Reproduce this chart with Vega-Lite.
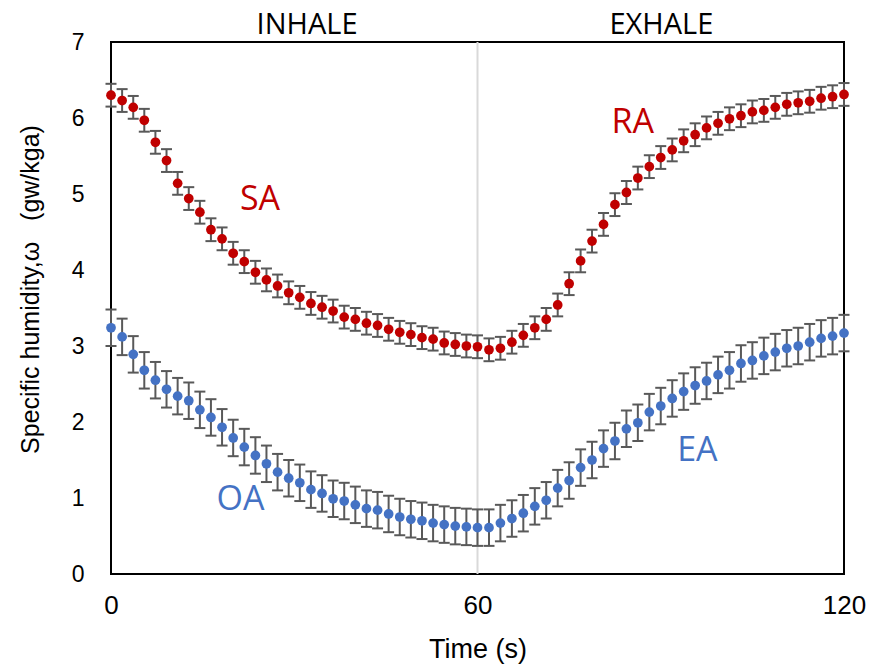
{
  "$schema": "https://vega.github.io/schema/vega-lite/v6.json",
  "width": 733,
  "height": 532,
  "autosize": "none",
  "padding": {"left": 111, "top": 42, "right": 29, "bottom": 97},
  "background": "white",
  "config": {
    "view": {"stroke": "#000000", "strokeWidth": 2},
    "axis": {"grid": false, "domain": false, "ticks": false, "tickSize": 0, "labelFlush": false, "labelFont": "Liberation Sans", "titleFont": "Liberation Sans", "labelColor": "#000000", "titleColor": "#000000", "titleFontWeight": "normal"}
  },
  "datasets": {
    "pts": [
      {"t": 0, "s": "SA-RA", "v": 6.30, "e": 0.15},
      {"t": 1.82, "s": "SA-RA", "v": 6.23, "e": 0.15},
      {"t": 3.64, "s": "SA-RA", "v": 6.14, "e": 0.15},
      {"t": 5.45, "s": "SA-RA", "v": 5.97, "e": 0.15},
      {"t": 7.27, "s": "SA-RA", "v": 5.68, "e": 0.15},
      {"t": 9.09, "s": "SA-RA", "v": 5.44, "e": 0.15},
      {"t": 10.91, "s": "SA-RA", "v": 5.14, "e": 0.15},
      {"t": 12.73, "s": "SA-RA", "v": 4.94, "e": 0.15},
      {"t": 14.55, "s": "SA-RA", "v": 4.76, "e": 0.15},
      {"t": 16.36, "s": "SA-RA", "v": 4.53, "e": 0.15},
      {"t": 18.18, "s": "SA-RA", "v": 4.41, "e": 0.15},
      {"t": 20.0, "s": "SA-RA", "v": 4.22, "e": 0.15},
      {"t": 21.82, "s": "SA-RA", "v": 4.11, "e": 0.15},
      {"t": 23.64, "s": "SA-RA", "v": 3.97, "e": 0.15},
      {"t": 25.45, "s": "SA-RA", "v": 3.87, "e": 0.15},
      {"t": 27.27, "s": "SA-RA", "v": 3.79, "e": 0.15},
      {"t": 29.09, "s": "SA-RA", "v": 3.70, "e": 0.15},
      {"t": 30.91, "s": "SA-RA", "v": 3.64, "e": 0.15},
      {"t": 32.73, "s": "SA-RA", "v": 3.56, "e": 0.15},
      {"t": 34.55, "s": "SA-RA", "v": 3.51, "e": 0.15},
      {"t": 36.36, "s": "SA-RA", "v": 3.46, "e": 0.15},
      {"t": 38.18, "s": "SA-RA", "v": 3.38, "e": 0.15},
      {"t": 40.0, "s": "SA-RA", "v": 3.35, "e": 0.15},
      {"t": 41.82, "s": "SA-RA", "v": 3.30, "e": 0.15},
      {"t": 43.64, "s": "SA-RA", "v": 3.27, "e": 0.15},
      {"t": 45.45, "s": "SA-RA", "v": 3.22, "e": 0.15},
      {"t": 47.27, "s": "SA-RA", "v": 3.18, "e": 0.15},
      {"t": 49.09, "s": "SA-RA", "v": 3.15, "e": 0.15},
      {"t": 50.91, "s": "SA-RA", "v": 3.11, "e": 0.15},
      {"t": 52.73, "s": "SA-RA", "v": 3.09, "e": 0.15},
      {"t": 54.55, "s": "SA-RA", "v": 3.04, "e": 0.15},
      {"t": 56.36, "s": "SA-RA", "v": 3.02, "e": 0.15},
      {"t": 58.18, "s": "SA-RA", "v": 3.00, "e": 0.15},
      {"t": 60.0, "s": "SA-RA", "v": 2.99, "e": 0.15},
      {"t": 61.88, "s": "SA-RA", "v": 2.95, "e": 0.15},
      {"t": 63.75, "s": "SA-RA", "v": 2.97, "e": 0.15},
      {"t": 65.63, "s": "SA-RA", "v": 3.05, "e": 0.15},
      {"t": 67.5, "s": "SA-RA", "v": 3.14, "e": 0.15},
      {"t": 69.38, "s": "SA-RA", "v": 3.24, "e": 0.15},
      {"t": 71.25, "s": "SA-RA", "v": 3.35, "e": 0.15},
      {"t": 73.13, "s": "SA-RA", "v": 3.54, "e": 0.15},
      {"t": 75.0, "s": "SA-RA", "v": 3.82, "e": 0.15},
      {"t": 76.88, "s": "SA-RA", "v": 4.12, "e": 0.15},
      {"t": 78.75, "s": "SA-RA", "v": 4.38, "e": 0.15},
      {"t": 80.63, "s": "SA-RA", "v": 4.60, "e": 0.15},
      {"t": 82.5, "s": "SA-RA", "v": 4.86, "e": 0.15},
      {"t": 84.38, "s": "SA-RA", "v": 5.02, "e": 0.15},
      {"t": 86.25, "s": "SA-RA", "v": 5.21, "e": 0.15},
      {"t": 88.13, "s": "SA-RA", "v": 5.36, "e": 0.15},
      {"t": 90.0, "s": "SA-RA", "v": 5.48, "e": 0.15},
      {"t": 91.88, "s": "SA-RA", "v": 5.58, "e": 0.15},
      {"t": 93.75, "s": "SA-RA", "v": 5.70, "e": 0.15},
      {"t": 95.63, "s": "SA-RA", "v": 5.78, "e": 0.15},
      {"t": 97.5, "s": "SA-RA", "v": 5.87, "e": 0.15},
      {"t": 99.38, "s": "SA-RA", "v": 5.93, "e": 0.15},
      {"t": 101.25, "s": "SA-RA", "v": 5.99, "e": 0.15},
      {"t": 103.13, "s": "SA-RA", "v": 6.03, "e": 0.15},
      {"t": 105.0, "s": "SA-RA", "v": 6.08, "e": 0.15},
      {"t": 106.88, "s": "SA-RA", "v": 6.10, "e": 0.15},
      {"t": 108.75, "s": "SA-RA", "v": 6.14, "e": 0.15},
      {"t": 110.63, "s": "SA-RA", "v": 6.18, "e": 0.15},
      {"t": 112.5, "s": "SA-RA", "v": 6.20, "e": 0.15},
      {"t": 114.38, "s": "SA-RA", "v": 6.22, "e": 0.15},
      {"t": 116.25, "s": "SA-RA", "v": 6.26, "e": 0.15},
      {"t": 118.13, "s": "SA-RA", "v": 6.28, "e": 0.15},
      {"t": 120.0, "s": "SA-RA", "v": 6.31, "e": 0.15},
      {"t": 0, "s": "OA-EA", "v": 3.24, "e": 0.24},
      {"t": 1.82, "s": "OA-EA", "v": 3.12, "e": 0.24},
      {"t": 3.64, "s": "OA-EA", "v": 2.89, "e": 0.24},
      {"t": 5.45, "s": "OA-EA", "v": 2.68, "e": 0.24},
      {"t": 7.27, "s": "OA-EA", "v": 2.55, "e": 0.24},
      {"t": 9.09, "s": "OA-EA", "v": 2.43, "e": 0.24},
      {"t": 10.91, "s": "OA-EA", "v": 2.34, "e": 0.24},
      {"t": 12.73, "s": "OA-EA", "v": 2.28, "e": 0.24},
      {"t": 14.55, "s": "OA-EA", "v": 2.16, "e": 0.24},
      {"t": 16.36, "s": "OA-EA", "v": 2.06, "e": 0.24},
      {"t": 18.18, "s": "OA-EA", "v": 1.93, "e": 0.24},
      {"t": 20.0, "s": "OA-EA", "v": 1.79, "e": 0.24},
      {"t": 21.82, "s": "OA-EA", "v": 1.67, "e": 0.24},
      {"t": 23.64, "s": "OA-EA", "v": 1.56, "e": 0.24},
      {"t": 25.45, "s": "OA-EA", "v": 1.45, "e": 0.24},
      {"t": 27.27, "s": "OA-EA", "v": 1.34, "e": 0.24},
      {"t": 29.09, "s": "OA-EA", "v": 1.26, "e": 0.24},
      {"t": 30.91, "s": "OA-EA", "v": 1.20, "e": 0.24},
      {"t": 32.73, "s": "OA-EA", "v": 1.11, "e": 0.24},
      {"t": 34.55, "s": "OA-EA", "v": 1.06, "e": 0.24},
      {"t": 36.36, "s": "OA-EA", "v": 0.99, "e": 0.24},
      {"t": 38.18, "s": "OA-EA", "v": 0.96, "e": 0.24},
      {"t": 40.0, "s": "OA-EA", "v": 0.91, "e": 0.24},
      {"t": 41.82, "s": "OA-EA", "v": 0.86, "e": 0.24},
      {"t": 43.64, "s": "OA-EA", "v": 0.84, "e": 0.24},
      {"t": 45.45, "s": "OA-EA", "v": 0.79, "e": 0.24},
      {"t": 47.27, "s": "OA-EA", "v": 0.75, "e": 0.24},
      {"t": 49.09, "s": "OA-EA", "v": 0.72, "e": 0.24},
      {"t": 50.91, "s": "OA-EA", "v": 0.70, "e": 0.24},
      {"t": 52.73, "s": "OA-EA", "v": 0.67, "e": 0.24},
      {"t": 54.55, "s": "OA-EA", "v": 0.65, "e": 0.24},
      {"t": 56.36, "s": "OA-EA", "v": 0.63, "e": 0.24},
      {"t": 58.18, "s": "OA-EA", "v": 0.62, "e": 0.24},
      {"t": 60.0, "s": "OA-EA", "v": 0.61, "e": 0.24},
      {"t": 61.88, "s": "OA-EA", "v": 0.61, "e": 0.24},
      {"t": 63.75, "s": "OA-EA", "v": 0.67, "e": 0.24},
      {"t": 65.63, "s": "OA-EA", "v": 0.73, "e": 0.24},
      {"t": 67.5, "s": "OA-EA", "v": 0.80, "e": 0.24},
      {"t": 69.38, "s": "OA-EA", "v": 0.89, "e": 0.24},
      {"t": 71.25, "s": "OA-EA", "v": 0.97, "e": 0.24},
      {"t": 73.13, "s": "OA-EA", "v": 1.13, "e": 0.24},
      {"t": 75.0, "s": "OA-EA", "v": 1.23, "e": 0.24},
      {"t": 76.88, "s": "OA-EA", "v": 1.40, "e": 0.24},
      {"t": 78.75, "s": "OA-EA", "v": 1.50, "e": 0.24},
      {"t": 80.63, "s": "OA-EA", "v": 1.65, "e": 0.24},
      {"t": 82.5, "s": "OA-EA", "v": 1.75, "e": 0.24},
      {"t": 84.38, "s": "OA-EA", "v": 1.91, "e": 0.24},
      {"t": 86.25, "s": "OA-EA", "v": 1.99, "e": 0.24},
      {"t": 88.13, "s": "OA-EA", "v": 2.13, "e": 0.24},
      {"t": 90.0, "s": "OA-EA", "v": 2.21, "e": 0.24},
      {"t": 91.88, "s": "OA-EA", "v": 2.31, "e": 0.24},
      {"t": 93.75, "s": "OA-EA", "v": 2.40, "e": 0.24},
      {"t": 95.63, "s": "OA-EA", "v": 2.48, "e": 0.24},
      {"t": 97.5, "s": "OA-EA", "v": 2.54, "e": 0.24},
      {"t": 99.38, "s": "OA-EA", "v": 2.62, "e": 0.24},
      {"t": 101.25, "s": "OA-EA", "v": 2.68, "e": 0.24},
      {"t": 103.13, "s": "OA-EA", "v": 2.77, "e": 0.24},
      {"t": 105.0, "s": "OA-EA", "v": 2.81, "e": 0.24},
      {"t": 106.88, "s": "OA-EA", "v": 2.87, "e": 0.24},
      {"t": 108.75, "s": "OA-EA", "v": 2.92, "e": 0.24},
      {"t": 110.63, "s": "OA-EA", "v": 2.97, "e": 0.24},
      {"t": 112.5, "s": "OA-EA", "v": 3.00, "e": 0.24},
      {"t": 114.38, "s": "OA-EA", "v": 3.05, "e": 0.24},
      {"t": 116.25, "s": "OA-EA", "v": 3.10, "e": 0.24},
      {"t": 118.13, "s": "OA-EA", "v": 3.13, "e": 0.24},
      {"t": 120.0, "s": "OA-EA", "v": 3.17, "e": 0.24}
    ],
    "labels": [
      {"t": 24.4, "v": 4.92, "label": "SA", "s": "SA-RA"},
      {"t": 85.4, "v": 5.93, "label": "RA", "s": "SA-RA"},
      {"t": 21.2, "v": 0.97, "label": "OA", "s": "OA-EA"},
      {"t": 96.0, "v": 1.62, "label": "EA", "s": "OA-EA"}
    ],
    "phases": [
      {"t": 32.1, "v": 7.23, "label": "INHALE"},
      {"t": 90.1, "v": 7.23, "label": "EXHALE"}
    ],
    "divider": [{"t": 60}]
  },
  "layer": [
    {
      "data": {"name": "divider"},
      "mark": {"type": "rule", "color": "#D9D9D9", "strokeWidth": 2},
      "encoding": {"x": {"field": "t", "type": "quantitative", "title": "Time (s)"}}
    },
    {
      "data": {"name": "pts"},
      "mark": {"type": "errorbar", "color": "#595959", "thickness": 2, "opacity": 1, "rule": {"opacity": 1, "strokeWidth": 2, "color": "#595959"}, "ticks": {"size": 11, "thickness": 2, "color": "#595959", "opacity": 1}},
      "encoding": {
        "x": {"field": "t", "type": "quantitative", "title": "Time (s)"},
        "y": {"field": "v", "type": "quantitative", "title": "Specific humidity,ω\u00a0\u00a0\u00a0(gw/kga)"},
        "yError": {"field": "e"},
        "detail": {"field": "s"}
      }
    },
    {
      "data": {"name": "pts"},
      "mark": {"type": "circle", "size": 95, "opacity": 1},
      "encoding": {
        "x": {"field": "t", "type": "quantitative", "scale": {"domain": [0, 120], "nice": false, "zero": false},
              "title": "Time (s)",
              "axis": {"values": [0, 60, 120], "format": "d", "labelFont": "Liberation Sans", "labelFontSize": 26, "labelPadding": 18, "labelFlush": false, "titleFont": "Liberation Sans", "titleFontSize": 27, "titlePadding": 18}},
        "y": {"field": "v", "type": "quantitative", "scale": {"domain": [0, 7], "nice": false},
              "title": "Specific humidity,ω\u00a0\u00a0\u00a0(gw/kga)",
              "axis": {"values": [0, 1, 2, 3, 4, 5, 6, 7], "format": "d", "labelFont": "Liberation Sans", "labelFontSize": 23, "labelPadding": 27, "labelFlush": false, "titleFont": "Liberation Sans", "titleFontSize": 25, "titleX": -81, "titleY": 247, "titleBaseline": "middle", "titleAnchor": "middle"}},
        "color": {"field": "s", "type": "nominal", "scale": {"domain": ["SA-RA", "OA-EA"], "range": ["#C00000", "#4472C4"]}, "legend": null}
      }
    },
    {
      "data": {"name": "labels"},
      "mark": {"type": "text", "font": "Open Sans", "fontSize": 34, "align": "center", "baseline": "middle"},
      "encoding": {
        "x": {"field": "t", "type": "quantitative", "title": "Time (s)"},
        "y": {"field": "v", "type": "quantitative", "title": "Specific humidity,ω\u00a0\u00a0\u00a0(gw/kga)"},
        "text": {"field": "label"},
        "color": {"field": "s", "type": "nominal", "legend": null}
      }
    },
    {
      "data": {"name": "phases"},
      "mark": {"type": "text", "font": "Open Sans", "fontSize": 29, "align": "center", "baseline": "middle", "color": "#000000"},
      "encoding": {
        "x": {"field": "t", "type": "quantitative", "title": "Time (s)"},
        "y": {"field": "v", "type": "quantitative", "title": "Specific humidity,ω\u00a0\u00a0\u00a0(gw/kga)"},
        "text": {"field": "label"}
      }
    }
  ]
}
